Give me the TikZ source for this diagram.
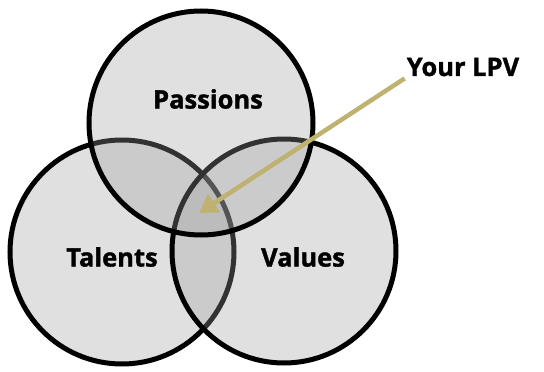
\documentclass[tikz,border=0pt]{standalone}
\usepackage{fontspec}
\setmainfont{Open Sans}[BoldFeatures={FakeBold=1.3}]
\usepackage{tikz}
\usetikzlibrary{positioning}
\usetikzlibrary{arrows.meta}
\definecolor{venngray}{RGB}{158,158,158}
\definecolor{lpvgold}{RGB}{191,178,112}
\tikzset{
  venn/.style={draw=black, line width=5pt, fill=venngray, fill opacity=0.32},
  label/.style={font=\bfseries\fontsize{25.5}{30}\selectfont, inner sep=2pt},
  pointer/.style={lpvgold, line width=4.5pt, -{Triangle[length=18pt,width=21pt]}}
}
\begin{document}
\begin{tikzpicture}[x=1pt, y=-1pt]
\useasboundingbox (0,0) rectangle (544,372);
% The three circles
\draw[venn] (122,252) circle[radius=112pt];
\draw[venn] (284,251) circle[radius=112pt];
\draw[venn] (201,123) circle[radius=112pt];
% Labels
\node[label] (passions) at (208,99) {Passions};
\node[label] (talents) at (112,257) {Talents};
\node[label] (values) at (303,257) {Values};
% Your LPV
\node[label] (lpv) at (463,67) {Your LPV};
\coordinate (core) at (199,213);
\draw[pointer] (lpv.south west) -- (core);
\end{tikzpicture}
\end{document}
